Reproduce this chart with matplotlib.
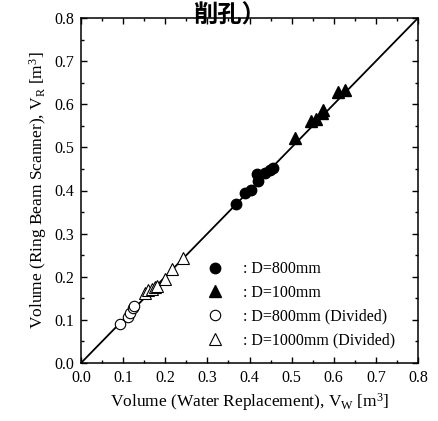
import matplotlib
matplotlib.use("Agg")
import matplotlib.pyplot as plt
from matplotlib.ticker import MultipleLocator
from matplotlib.lines import Line2D

plt.rcParams['font.family'] = ['Liberation Serif', 'DejaVu Serif']
plt.rcParams['mathtext.fontset'] = 'custom'
plt.rcParams['mathtext.rm'] = 'Liberation Serif'
plt.rcParams['mathtext.it'] = 'Liberation Serif:italic'

# Data
d800_x = [0.367, 0.389, 0.403, 0.418, 0.421, 0.437, 0.448, 0.455]
d800_y = [0.368, 0.394, 0.401, 0.438, 0.421, 0.440, 0.448, 0.452]
d100_x = [0.508, 0.547, 0.559, 0.571, 0.575, 0.610, 0.626]
d100_y = [0.521, 0.561, 0.565, 0.579, 0.587, 0.629, 0.633]
d800div_x = [0.093, 0.112, 0.116, 0.123, 0.126]
d800div_y = [0.090, 0.107, 0.115, 0.127, 0.133]
d1000div_x = [0.152, 0.160, 0.168, 0.176, 0.181, 0.199, 0.217, 0.241]
d1000div_y = [0.163, 0.169, 0.172, 0.177, 0.179, 0.194, 0.219, 0.243]
line_x = [0.0, 0.8]
line_y = [0.0, 0.8]
labels = [': D=800mm', ': D=100mm', ': D=800mm (Divided)', ': D=1000mm (Divided)']
title_text = '削孔）'

W, H = 439, 421
fig = plt.figure(figsize=(W / 100, H / 100), dpi=100)
ax = fig.add_axes([81 / W, 1 - 363 / H, 337 / W, 345 / H])

ax.plot(line_x, line_y, color='black', lw=1.3, zorder=1)
ax.plot(d800_x, d800_y, 'o', color='black', ms=7.5, zorder=3)
ax.plot(d100_x, d100_y, '^', color='black', ms=8.5, zorder=3)
ax.plot(d800div_x, d800div_y, 'o', mfc='white', mec='black', mew=0.8, ms=7.5, zorder=3)
ax.plot(d1000div_x, d1000div_y, '^', mfc='white', mec='black', mew=0.8, ms=8.5, zorder=3)

ax.set_xlim(0, 0.8)
ax.set_ylim(0, 0.8)
ax.xaxis.set_major_locator(MultipleLocator(0.1))
ax.yaxis.set_major_locator(MultipleLocator(0.1))
ax.xaxis.set_minor_locator(MultipleLocator(0.05))
ax.yaxis.set_minor_locator(MultipleLocator(0.05))
ax.xaxis.set_major_formatter(matplotlib.ticker.FormatStrFormatter('%.1f'))
ax.yaxis.set_major_formatter(matplotlib.ticker.FormatStrFormatter('%.1f'))
ax.tick_params(which='both', direction='in', top=True, right=True, labelsize=11.5, width=1.0)
ax.tick_params(which='major', length=4)
ax.tick_params(which='minor', length=2.5)
ax.tick_params(axis='x', pad=5)
ax.tick_params(axis='y', pad=5)
for s in ax.spines.values():
    s.set_linewidth(1.1)

ax.set_xlabel(r'Volume (Water Replacement), V$_\mathrm{W}$ [m$^\mathrm{3}$]', fontsize=12.5, labelpad=4)
ax.set_ylabel(r'Volume (Ring Beam Scanner), V$_\mathrm{R}$ [m$^\mathrm{3}$]', fontsize=12.5, labelpad=4)

handles = [
    Line2D([], [], ls='none', marker='o', color='black', ms=7.5),
    Line2D([], [], ls='none', marker='^', color='black', ms=8.5),
    Line2D([], [], ls='none', marker='o', mfc='white', mec='black', mew=0.8, ms=7.5),
    Line2D([], [], ls='none', marker='^', mfc='white', mec='black', mew=0.8, ms=8.5),
]
ax.legend(handles, labels, loc='lower left', bbox_to_anchor=(0.375, 0.043), frameon=False,
          fontsize=11.5, handlelength=1.0, handletextpad=1.2, labelspacing=0.48, borderpad=0,
          borderaxespad=0)

fig.text(229 / W, 1 - 23 / H, title_text, ha='center', va='baseline', fontsize=17.5,
         fontweight='bold', family=['Noto Sans CJK JP', 'DejaVu Sans'])

fig.savefig('out.png', dpi=100)
